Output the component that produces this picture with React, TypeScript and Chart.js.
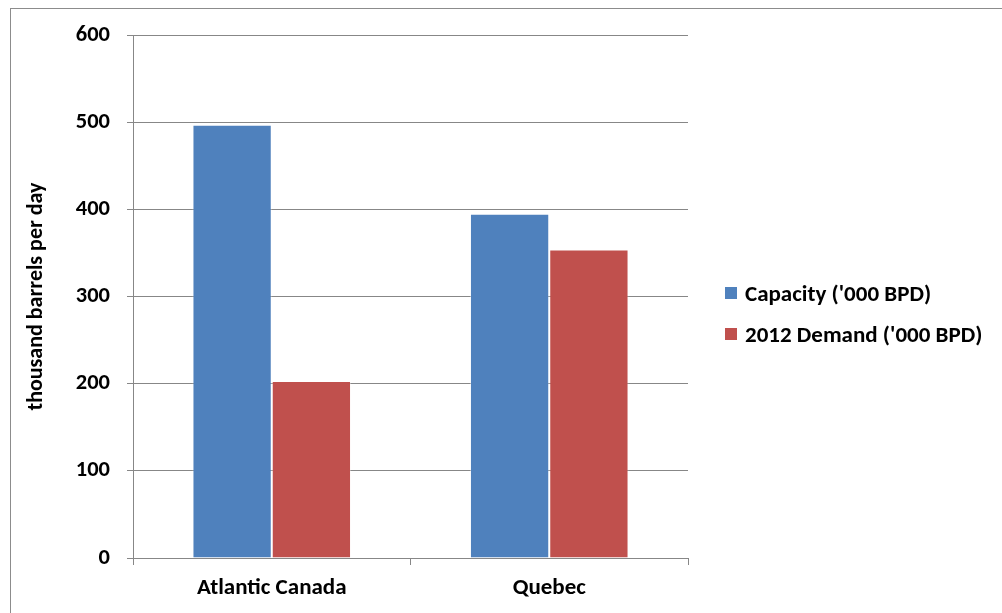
import React, { useEffect, useRef } from "react";
import { Chart, registerables } from "chart.js";

Chart.register(...registerables);

const categories = ["Atlantic Canada", "Quebec"];
const capacity = [497, 395];
const demand2012 = [203, 354];
const seriesNames = ["Capacity ('000 BPD)", "2012 Demand ('000 BPD)"];
const seriesColors = ["#4F81BD", "#C0504D"];
const yTitle = "thousand barrels per day";

const FONT = "Carlito, Lato, 'Liberation Sans', sans-serif";
const GRID = "#878787";

export default function App() {
  const canvasRef = useRef<HTMLCanvasElement | null>(null);

  useEffect(() => {
    const canvas = canvasRef.current;
    if (!canvas) return;
    const chart = new Chart(canvas, {
      type: "bar",
      data: {
        labels: categories,
        datasets: [
          {
            label: seriesNames[0],
            data: capacity,
            backgroundColor: seriesColors[0],
            borderColor: "rgba(255,255,255,0.35)",
            borderWidth: 1,
            categoryPercentage: 2 / 3.5,
            barPercentage: 1,
          },
          {
            label: seriesNames[1],
            data: demand2012,
            backgroundColor: seriesColors[1],
            borderColor: "rgba(255,255,255,0.35)",
            borderWidth: 1,
            categoryPercentage: 2 / 3.5,
            barPercentage: 1,
          },
        ],
      },
      options: {
        responsive: false,
        animation: false,
        layout: { padding: { top: 35, left: 10, right: 314, bottom: 0 } },
        plugins: {
          legend: { display: false },
          tooltip: { enabled: false },
        },
        scales: {
          x: {
            grid: {
              drawOnChartArea: false,
              drawTicks: true,
              tickLength: 7,
              color: GRID,
              offset: true,
            },
            border: { display: true, color: GRID, width: 1 },
            ticks: {
              color: "#000",
              padding: 9,
              font: { family: FONT, size: 23, weight: "bold" },
            },
            afterFit: (scale: any) => {
              scale.height = 55;
            },
          },
          y: {
            min: 0,
            max: 600,
            grid: {
              color: GRID,
              tickLength: 6,
              drawTicks: true,
            },
            border: { display: true, color: GRID, width: 1 },
            ticks: {
              stepSize: 100,
              color: "#000",
              padding: 17,
              font: { family: FONT, size: 22.5, weight: "bold" },
            },
            title: {
              display: true,
              text: yTitle,
              color: "#000",
              padding: { top: 13, bottom: 0 },
              font: { family: FONT, size: 22, weight: "bold" },
            },
            afterFit: (scale: any) => {
              scale.width = 123;
            },
          },
        },
      },
    });
    return () => chart.destroy();
  }, []);

  return (
    <div style={{ position: "absolute", left: 0, top: 0, width: 1002, height: 613, overflow: "hidden", background: "#fff" }}>
      <div
        style={{
          position: "absolute",
          left: 10,
          top: 8,
          width: 1010,
          height: 640,
          borderTop: "1px solid #8c8c8c",
          borderLeft: "1px solid #8c8c8c",
        }}
      />
      <canvas ref={canvasRef} width={1002} height={613} style={{ position: "absolute", left: 0, top: 0, display: "block" }} />
      {seriesNames.map((name, i) => (
        <div
          key={name}
          style={{
            position: "absolute",
            left: 725,
            top: 281 + i * 41,
            height: 24,
            display: "flex",
            alignItems: "center",
            fontFamily: FONT,
            fontWeight: "bold",
            fontSize: 23,
            color: "#000",
            whiteSpace: "nowrap",
          }}
        >
          <span style={{ display: "inline-block", width: 12, height: 12, background: seriesColors[i], marginRight: 8 }} />
          <span>{name}</span>
        </div>
      ))}
    </div>
  );
}
